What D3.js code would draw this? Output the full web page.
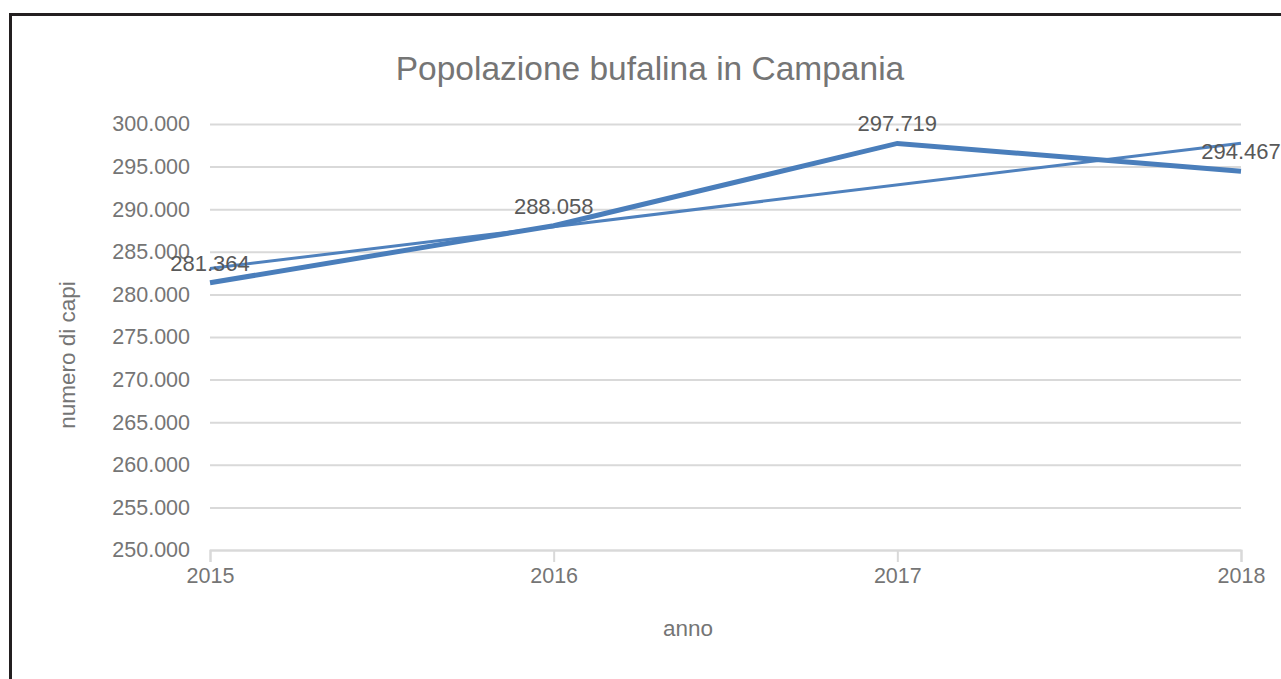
<!DOCTYPE html>
<html>
<head>
<meta charset="utf-8">
<title>Popolazione bufalina in Campania</title>
<style>
  body { margin: 0; background: #fff; }
  svg  { display: block; font-family: "Liberation Sans", Arial, sans-serif; }
</style>
</head>
<body>
<script src="https://cdn.jsdelivr.net/npm/d3@7"></script>
<script>

// data
var years = [2015, 2016, 2017, 2018];
var capi = [281364, 288058, 297719, 294467];
// linear trend line, read at first and last year
var trendYears = [2015, 2018];
var trendValues = [283050, 297750];
var yTicks = [250000, 255000, 260000, 265000, 270000, 275000, 280000, 285000, 290000, 295000, 300000];

var totalWidth = 1281, totalHeight = 679;
var margin = {top: 124, right: 40, bottom: 129, left: 210};
var width = 1241 - margin.left;
var height = 550 - margin.top;

var it = d3.formatLocale({decimal: ",", thousands: ".", grouping: [3], currency: ["€", ""]});
var fmt = it.format(",d");

var svg = d3.select("body").append("svg")
    .attr("width", totalWidth)
    .attr("height", totalHeight);

// frame
svg.append("rect")
    .attr("x", 10.5).attr("y", 14.5)
    .attr("width", 1400).attr("height", 800)
    .attr("fill", "#fff")
    .attr("stroke", "#231f20")
    .attr("stroke-width", 3);

var x = d3.scaleLinear().domain([2015, 2018]).range([0, width]);
var y = d3.scaleLinear().domain([250000, 300000]).range([height, 0]);

var chart = svg.append("g")
    .attr("transform", "translate(" + margin.left + "," + margin.top + ")");

// gridlines + y labels
var yAxis = d3.axisLeft(y).tickValues(yTicks).tickSize(-width).tickFormat(fmt).tickPadding(20);
var gy = chart.append("g").call(yAxis);
gy.select(".domain").remove();
gy.selectAll(".tick line").attr("stroke", "#d9d9d9").attr("stroke-width", 2);
gy.selectAll(".tick text").attr("fill", "#757575").style("font-size", "21.5px");

// x axis
var xAxis = d3.axisBottom(x).tickValues(years).tickFormat(d3.format("d")).tickSize(12).tickPadding(6);
var gx = chart.append("g").attr("transform", "translate(0," + height + ")").call(xAxis);
gx.select(".domain").attr("stroke", "#d9d9d9").attr("stroke-width", 2);
gx.selectAll(".tick line").attr("stroke", "#d9d9d9").attr("stroke-width", 2);
gx.selectAll(".tick text").attr("fill", "#757575").style("font-size", "21.5px");

// series
var line = d3.line()
    .x(function(d) { return x(d[0]); })
    .y(function(d) { return y(d[1]); });

chart.append("path")
    .datum(d3.zip(trendYears, trendValues))
    .attr("d", line)
    .attr("fill", "none")
    .attr("stroke", "#4f81bd")
    .attr("stroke-width", 3);

chart.append("path")
    .datum(d3.zip(years, capi))
    .attr("d", line)
    .attr("fill", "none")
    .attr("stroke", "#4a7ebb")
    .attr("stroke-width", 5)
    .attr("stroke-linejoin", "miter");

// data labels
chart.selectAll(".lbl")
    .data(d3.zip(years, capi))
  .enter().append("text")
    .attr("class", "lbl")
    .attr("x", function(d) { return x(d[0]); })
    .attr("y", function(d) { return y(d[1]) - 12; })
    .attr("text-anchor", "middle")
    .attr("fill", "#595959")
    .style("font-size", "22px")
    .text(function(d) { return fmt(d[1]); });

// title and axis titles
svg.append("text")
    .attr("x", 650).attr("y", 80)
    .attr("text-anchor", "middle")
    .attr("fill", "#757575")
    .style("font-size", "33.5px")
    .text("Popolazione bufalina in Campania");

svg.append("text")
    .attr("transform", "translate(75,355) rotate(-90)")
    .attr("text-anchor", "middle")
    .attr("fill", "#757575")
    .style("font-size", "22.5px")
    .text("numero di capi");

svg.append("text")
    .attr("x", 688).attr("y", 636)
    .attr("text-anchor", "middle")
    .attr("fill", "#757575")
    .style("font-size", "22.5px")
    .text("anno");

</script>
</body>
</html>
